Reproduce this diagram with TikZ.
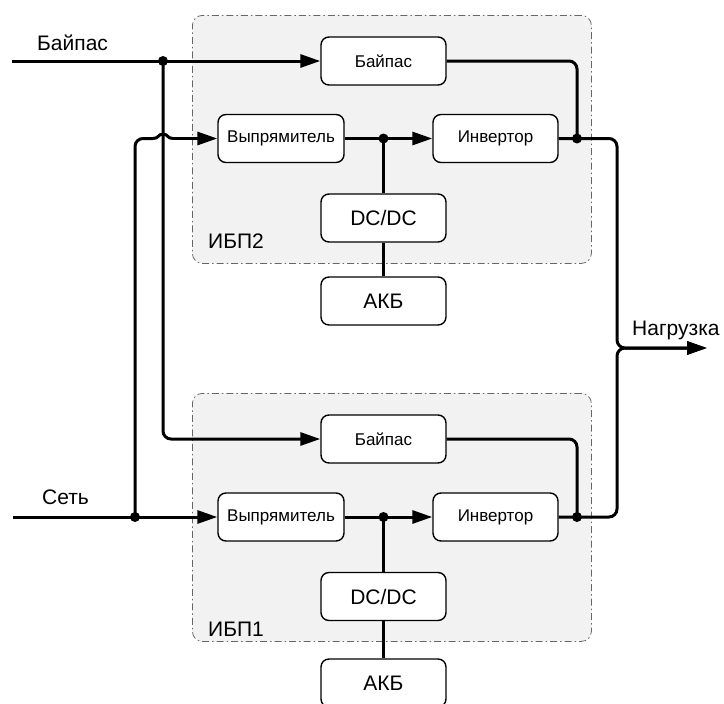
\documentclass[tikz,border=0pt]{standalone}
\usepackage{fontspec}
\setmainfont{Liberation Sans}
\usetikzlibrary{arrows.meta}
\definecolor{grpfill}{HTML}{F2F2F2}
\definecolor{grpline}{HTML}{666666}
\begin{document}
\begin{tikzpicture}[x=1pt,y=-1pt,
  blk/.style={draw, line width=1.4pt, rounded corners=8pt, fill=white, minimum width=125pt, minimum height=48pt, inner sep=0pt, font=\fontsize{17}{20}\selectfont},
  blkL/.style={blk, font=\fontsize{21}{24}\selectfont},
  grp/.style={draw=grpline, line width=0.8pt, dash pattern=on 7pt off 3pt on 1.5pt off 3pt, fill=grpfill, rounded corners=10pt, minimum width=399pt, minimum height=248pt, inner sep=0pt, anchor=north west},
  wire/.style={line width=3pt},
  arr/.style={wire, -{Triangle[length=20pt,width=13pt]}},
  jdot/.style={circle, fill=black, inner sep=0pt, minimum size=10pt},
  lbl/.style={font=\fontsize{21}{24}\selectfont, inner sep=0pt, anchor=base west}
]
\useasboundingbox (0,0) rectangle (724,704);

% groups
\node[grp] (g2) at (192,15) {};
\node[grp] (g1) at (192,393) {};

% blocks UPS2
\node[blk] (byp2) at (383.5,61) {Байпас};
\node[blk, minimum width=126pt] (rect2) at (281,138.5) {Выпрямитель};
\node[blk] (inv2) at (495.5,138.5) {Инвертор};
\node[blkL] (dc2) at (383.5,218) {DC/DC};
\node[blkL] (akb2) at (383.5,301) {АКБ};

% blocks UPS1
\node[blk] (byp1) at (383.5,439) {Байпас};
\node[blk, minimum width=126pt] (rect1) at (281,517) {Выпрямитель};
\node[blk] (inv1) at (495.5,517) {Инвертор};
\node[blkL] (dc1) at (383.5,596.5) {DC/DC};
\node[blkL] (akb1) at (383.5,683) {АКБ};

% labels
\node[lbl] (tB) at (37,50) {Байпас};
\node[lbl] (tS) at (42,504) {Сеть};
\node[lbl] (t2) at (208,248) {ИБП2};
\node[lbl] (t1) at (208,636) {ИБП1};
\node[lbl] (tL) at (632,335) {Нагрузка};

% coordinates
\coordinate (inB) at (12,61);
\coordinate (inS) at (13,517);
\coordinate (hopL) at (153,138.5);
\coordinate (hopR) at (173,138.5);
\coordinate (mrg) at (617,348);
\coordinate (loadend) at (707,348);
\coordinate (jB) at (163,61);
\coordinate (jS) at (135,517);
\coordinate (jR2) at (383.5,138.5);
\coordinate (jR1) at (383.5,517);
\coordinate (jO2) at (577,138.5);
\coordinate (jO1) at (577,517);

% wires
\draw[arr] (inB) -- (byp2.west);
\draw[arr, rounded corners=8pt] (jB) |- (byp1.west);
\draw[arr] (inS) -- (rect1.west);
\draw[wire, rounded corners=8pt] (jS) |- (hopL);
\draw[wire] (hopL) .. controls (159,138.5) and (158,134) .. (163,134) .. controls (168,134) and (167,138.5) .. (hopR);
\draw[arr] (hopR) -- (rect2.west);

\draw[arr] (rect2.east) -- (inv2.west);
\draw[arr] (rect1.east) -- (inv1.west);
\draw[wire] (jR2) -- (dc2.north);
\draw[wire] (dc2.south) -- (akb2.north);
\draw[wire] (jR1) -- (dc1.north);
\draw[wire] (dc1.south) -- (akb1.north);

\draw[wire, rounded corners=8pt] (byp2.east) -| (jO2);
\draw[wire, rounded corners=8pt] (byp1.east) -| (jO1);
\draw[arr, rounded corners=8pt] (inv2.east) -| (mrg) -- (loadend);
\draw[arr, rounded corners=8pt] (inv1.east) -| (mrg) -- (loadend);

% junction dots
\node[jdot] (dB) at (jB) {};
\node[jdot] (dS) at (jS) {};
\node[jdot] (dR2) at (jR2) {};
\node[jdot] (dR1) at (jR1) {};
\node[jdot] (dO2) at (jO2) {};
\node[jdot] (dO1) at (jO1) {};
\end{tikzpicture}
\end{document}
